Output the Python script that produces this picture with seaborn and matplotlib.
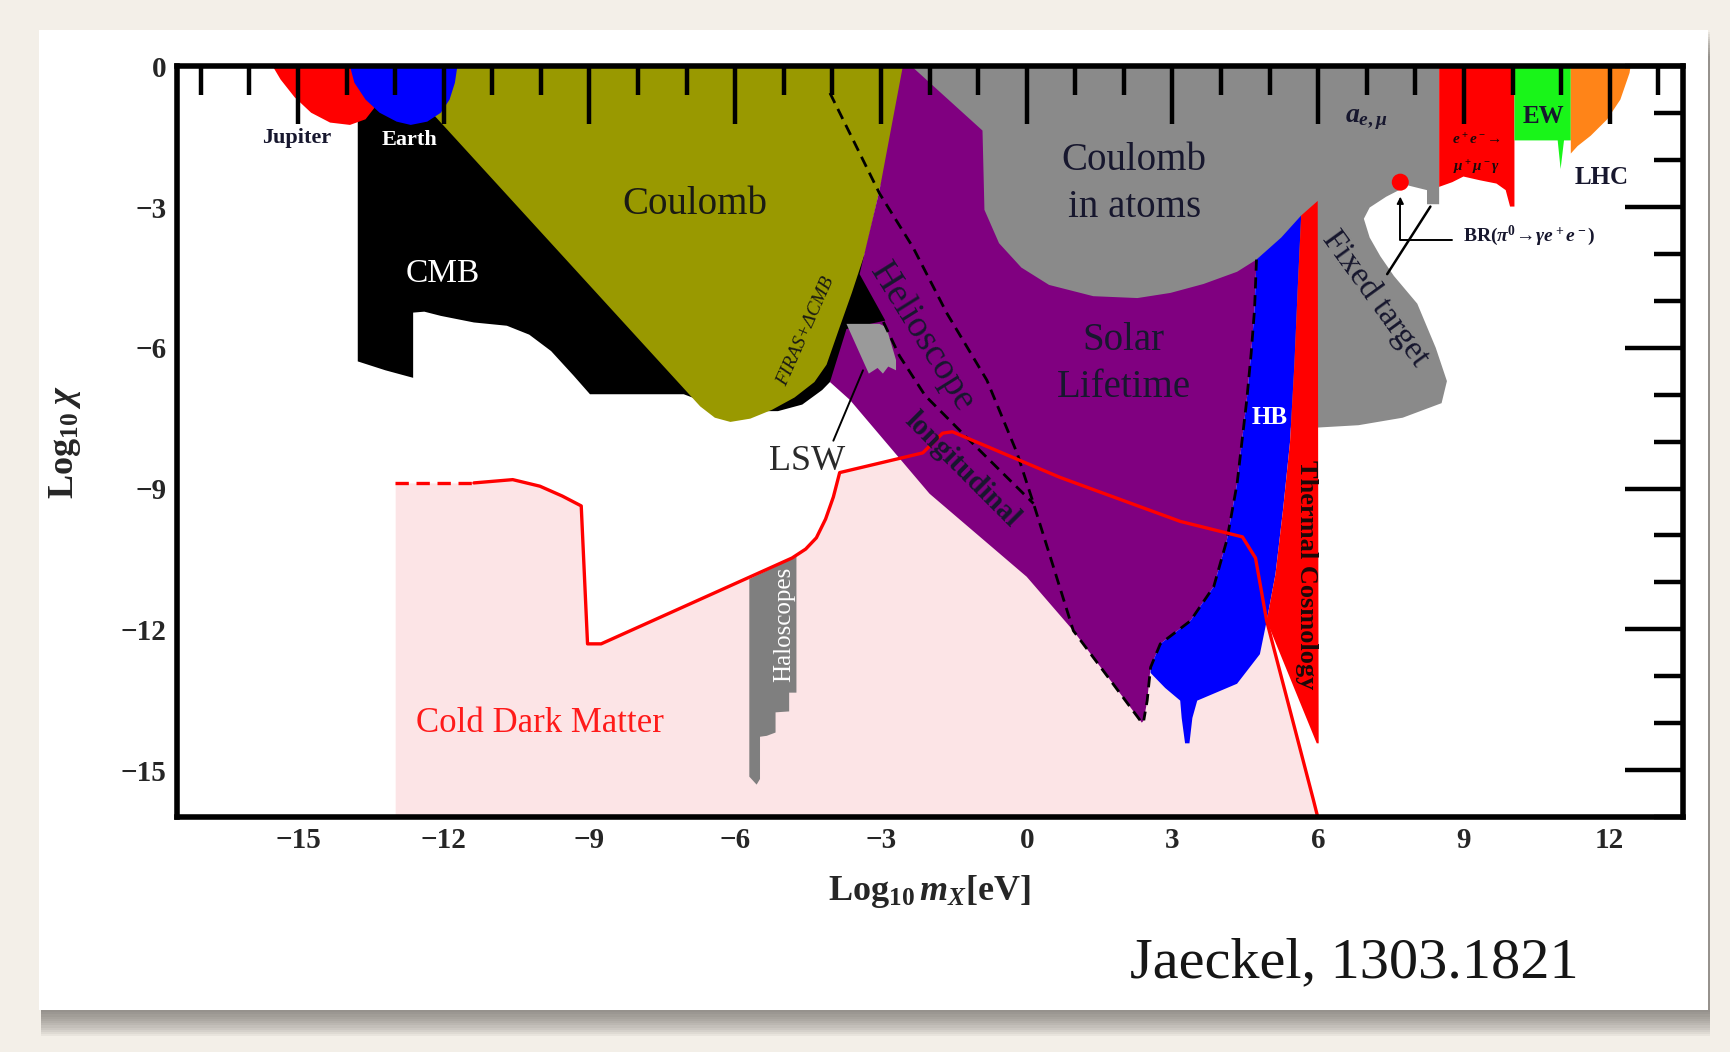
import numpy as np
import matplotlib
matplotlib.use("Agg")
import matplotlib.pyplot as plt
from matplotlib.patches import Rectangle
import seaborn as sns

# ---- region outlines: x = log10(m_X / eV), y = log10(chi) ----
jupiter_x = [-15.52, -15.36, -15.07, -14.73, -14.34, -13.93, -13.61, -13.43, -13.38, -13.43]
jupiter_y = [0, -0.28, -0.66, -0.99, -1.20, -1.25, -1.13, -0.89, -0.59, 0]

earth_x = [-13.93, -13.84, -13.61, -13.32, -12.97, -12.68, -12.34, -12.06, -11.88, -11.77, -11.72]
earth_y = [0, -0.35, -0.71, -0.99, -1.18, -1.25, -1.18, -0.99, -0.71, -0.35, 0]

cmb_x = [-13.77, -12.02, -8.42, -3.41, -2.62, -2.96, -3.64, -4.05, -4.21, -4.62, -5.12, -6.14,
         -7.06, -8.99, -9.33, -9.79, -10.24, -10.70, -11.38, -12.06, -12.40, -12.63, -12.63,
         -13.20, -13.77]
cmb_y = [-0.71, -0.71, -4.94, -4.00, -4.71, -5.65, -6.36, -6.73, -6.90, -7.21, -7.35, -7.35,
         -6.99, -6.99, -6.59, -6.07, -5.72, -5.53, -5.46, -5.32, -5.23, -5.25, -6.64,
         -6.48, -6.29]

coulomb_x = [-12.52, -2.46, -2.78, -3.03, -3.30, -3.60, -3.85, -4.12, -4.37, -4.78, -5.24,
             -5.69, -6.10, -6.42, -6.72, -12.29]
coulomb_y = [0, 0, -1.65, -2.64, -3.89, -4.83, -5.56, -6.36, -6.73, -7.06, -7.32,
             -7.51, -7.58, -7.49, -7.25, -0.94]

solar_x = [-2.55, 5.01, 5.01, 4.73, 4.69, 4.62, 4.53, 4.33, 4.12, 3.85, 3.37, 2.75, 2.55,
           2.48, 2.41, 2.37, 1.66, 0.96, 0.00, -2.00, -3.64, -4.05, -3.71, -2.91, -3.44, -3.03]
solar_y = [0, 0, -3.90, -4.12, -5.18, -6.12, -7.11, -8.90, -10.10, -11.09, -11.82, -12.31,
           -12.81, -13.52, -13.94, -13.99, -13.00, -12.03, -10.88, -9.11, -7.11, -6.73,
           -5.60, -5.42, -4.43, -2.64]

atoms_x = [-2.37, 8.49, 8.49, 8.24, 8.24, 7.85, 7.40, 7.06, 6.94, 7.06, 7.28, 7.56, 8.04,
           8.42, 8.65, 8.54, 7.74, 6.83, 5.99, 5.01, 5.01, 4.73, 4.33, 3.64, 2.96, 2.28,
           1.37, 0.46, -0.11, -0.57, -0.87, -0.91]
atoms_y = [0, 0, -2.94, -2.94, -2.64, -2.54, -2.78, -3.01, -3.25, -3.65, -4.05, -4.47, -5.06,
           -6.00, -6.71, -7.18, -7.49, -7.65, -7.70, -7.70, -3.89, -4.12, -4.38, -4.64,
           -4.83, -4.94, -4.90, -4.66, -4.29, -3.77, -3.06, -1.37]

hb_x = [4.73, 5.24, 5.65, 5.58, 5.51, 5.42, 5.28, 5.12, 4.94, 4.80, 4.33, 3.51, 3.41, 3.35,
        3.26, 3.19, 3.16, 2.85, 2.55, 2.55, 2.75, 3.37, 3.85, 4.12, 4.33, 4.53, 4.62, 4.69]
hb_y = [-4.12, -3.65, -3.18, -4.71, -6.36, -8.01, -9.42, -10.83, -11.82, -12.53, -13.16,
        -13.52, -13.89, -14.43, -14.43, -13.89, -13.52, -13.25, -12.93, -12.81, -12.31,
        -11.82, -11.09, -10.10, -8.90, -7.11, -6.12, -5.18]

thermal_x = [5.65, 5.99, 6.01, 5.97, 4.94, 5.12, 5.28, 5.42, 5.51, 5.58]
thermal_y = [-3.18, -2.87, -14.43, -14.43, -11.82, -10.83, -9.42, -8.01, -6.36, -4.71]

lsw_x = [-3.71, -3.03, -2.89, -2.69, -2.69, -2.85, -2.96, -3.07, -3.25]
lsw_y = [-5.49, -5.49, -5.56, -6.26, -6.48, -6.40, -6.55, -6.43, -6.55]

halo_x = [-5.71, -4.74, -4.74, -4.89, -4.89, -5.17, -5.17, -5.35, -5.49, -5.49, -5.56, -5.71]
halo_y = [-10.93, -10.45, -13.35, -13.35, -13.75, -13.77, -14.20, -14.27, -14.29, -15.19,
          -15.31, -15.14]

ee_x = [8.49, 10.04, 10.04, 9.95, 9.86, 9.67, 9.33, 8.99, 8.76, 8.49]
ee_y = [0, 0, -2.99, -2.99, -2.64, -2.50, -2.43, -2.35, -2.47, -2.57]

ew_x = [10.04, 11.20, 11.20, 11.06, 10.99, 10.93, 10.04]
ew_y = [0, 0, -1.58, -1.58, -2.19, -1.58, -1.58]

lhc_x = [11.20, 12.43, 12.41, 12.22, 11.95, 11.61, 11.34, 11.20]
lhc_y = [0, 0, -0.14, -0.71, -1.13, -1.48, -1.70, -1.86]

# cold dark matter boundary (first segment is the dashed extrapolation)
cdm_x = [-13.00, -11.38, -10.58, -10.02, -9.56, -9.17, -9.04, -8.76, -4.83, -4.55, -4.33,
         -4.14, -3.98, -3.85, -2.14, -1.73, -1.53, 0.68, 3.16, 4.44, 4.71, 4.94, 5.90, 5.99]
cdm_y = [-8.88, -8.88, -8.81, -8.95, -9.16, -9.37, -12.31, -12.31, -10.48, -10.29, -10.05,
         -9.65, -9.18, -8.66, -8.24, -7.82, -7.79, -8.76, -9.70, -10.03, -10.48, -11.82,
         -15.63, -16.0]

# helioscope bounds and HB bound (dashed)
helio_x = [-4.05, -3.03, -2.34, -1.64, -0.82, -0.20, 0.14, 0.55, 0.96, 1.66, 2.37]
helio_y = [-0.57, -2.71, -3.86, -5.27, -6.69, -8.24, -9.32, -10.67, -12.03, -13.00, -13.99]
helio_long_x = [-2.95, -2.62, -2.09, -1.14, 0.14]
helio_long_y = [-5.45, -6.17, -7.02, -8.01, -9.32]
hb_edge_x = [4.73, 4.69, 4.62, 4.53, 4.33, 4.12, 3.85, 3.37, 2.75, 2.55, 2.48, 2.41]
hb_edge_y = [-4.12, -5.18, -6.12, -7.11, -8.90, -10.10, -11.09, -11.82, -12.31, -12.81,
             -13.52, -13.94]

x_major = list(range(-15, 13, 3))
y_major = list(range(-15, 1, 3))

# ---- style ----
sns.set_style("white")
plt.rcParams.update({
    "font.family": ["Liberation Serif", "DejaVu Serif"],
    "mathtext.fontset": "custom",
    "mathtext.rm": "Liberation Serif:bold",
    "mathtext.it": "Liberation Serif:italic:bold",
    "mathtext.bf": "Liberation Serif:bold",
    "axes.unicode_minus": True,
})

DARK = "#17172e"

fig = plt.figure(figsize=(17.31, 10.52), dpi=100)
fig.patch.set_facecolor("#f3efe8")

# card with soft drop shadow
card = (0.0225, 0.040, 0.9645, 0.9315)
for k in range(12):
    off = (k + 1) * 0.0021
    fig.patches.append(Rectangle((card[0] + 0.001, card[1] - off), card[2], card[3],
                                 transform=fig.transFigure, facecolor="#55514c",
                                 alpha=0.065, edgecolor="none", zorder=-3))
fig.patches.append(Rectangle((card[0], card[1]), card[2], card[3], transform=fig.transFigure,
                             facecolor="white", edgecolor="none", zorder=-2))

ax = fig.add_axes([0.102, 0.2234, 0.870, 0.7136])
ax.set_facecolor("white")
ax.set_xlim(-17.5, 13.5)
ax.set_ylim(-16, 0)

# cold dark matter band
ax.fill_between(cdm_x, cdm_y, -16, color="#fce4e6", lw=0, zorder=1)

# excluded regions
ax.fill(cmb_x, cmb_y, color="black", lw=0, zorder=2)
ax.fill(coulomb_x, coulomb_y, color="#999900", lw=0, zorder=2.1)
ax.fill(jupiter_x, jupiter_y, color="#ff0000", lw=0, zorder=2.2)
ax.fill(earth_x, earth_y, color="#0000ff", lw=0, zorder=2.3)
ax.fill(solar_x, solar_y, color="#800080", lw=0, zorder=2.2)
ax.fill(atoms_x, atoms_y, color="#8a8a8a", lw=0, zorder=2.3)
ax.fill(lsw_x, lsw_y, color="#9a9a9a", lw=0, zorder=2.4)
ax.fill(hb_x, hb_y, color="#0000ff", lw=0, zorder=2.4)
ax.fill(thermal_x, thermal_y, color="#ff0000", lw=0, zorder=2.4)
ax.fill(halo_x, halo_y, color="#7f7f7f", lw=0, zorder=2.4)
ax.fill(ee_x, ee_y, color="#ff0000", lw=0, zorder=2.4)
ax.fill(ew_x, ew_y, color="#19f519", lw=0, zorder=2.4)
ax.fill(lhc_x, lhc_y, color="#ff8418", lw=0, zorder=2.4)


def trace(xs, ys, **kw):
    sns.lineplot(x=xs, y=ys, sort=False, estimator=None, ax=ax, **kw)


# dashed bounds
trace(helio_x, helio_y, color="black", lw=2.0, linestyle=(0, (4, 2.4)), zorder=3)
trace(helio_long_x, helio_long_y, color="black", lw=2.0, linestyle=(0, (4, 2.4)), zorder=3)
trace(hb_edge_x, hb_edge_y, color="black", lw=2.0, linestyle=(0, (4, 2.4)), zorder=3)

# cold dark matter boundary
trace(cdm_x[:2], cdm_y[:2], color="#ff0000", lw=2.4, linestyle=(0, (4, 2.3)), zorder=3.2)
trace(cdm_x[1:], cdm_y[1:], color="#ff0000", lw=2.4, zorder=3.2)

# LSW pointer and pi0 decay annotation
trace([-3.37, -3.98], [-6.48, -7.98], color="black", lw=1.4, zorder=3.3)
trace([8.31, 7.42], [-2.99, -4.43], color="black", lw=1.8, zorder=3.3)
trace([8.76, 7.69, 7.69], [-3.70, -3.70, -2.95], color="black", lw=1.4, zorder=3.3)
ax.annotate("", xy=(7.69, -2.72), xytext=(7.69, -3.0),
            arrowprops=dict(arrowstyle="-|>", color="black", lw=1.2, mutation_scale=10),
            zorder=3.3)
ax.scatter([7.69], [-2.47], s=150, color="#ff0000", edgecolor="none", zorder=3.4)

# region labels
txt = dict(zorder=4, ha="center", va="center")
ax.text(-15.02, -1.53, "Jupiter", fontsize=16, fontweight="bold", color=DARK, **txt)
ax.text(-12.70, -1.58, "Earth", fontsize=16, fontweight="bold", color="white", **txt)
ax.text(-12.02, -4.43, "CMB", fontsize=24, color="white", **txt)
ax.text(-6.83, -2.94, "Coulomb", fontsize=28, color="#1a1a14", **txt)
ax.text(-4.55, -5.65, "FIRAS+ΔCMB", fontsize=14, style="italic", color="#1a1a14",
        rotation=66, **txt)
ax.text(-2.16, -5.77, "Helioscope", fontsize=27, color=DARK, rotation=-58, **txt)
ax.text(-1.32, -8.59, "longitudinal", fontsize=21, fontweight="bold", color=DARK,
        rotation=-45, **txt)
ax.text(-4.51, -8.43, "LSW", fontsize=26, color="#2a2a2a", **txt)
ax.text(-4.99, -11.89, "Haloscopes", fontsize=18, color="white", rotation=90, **txt)
ax.text(-10.01, -14.01, "Cold Dark Matter", fontsize=25, color="#ff1a1a", **txt)
ax.text(2.21, -2.0, "Coulomb", fontsize=28, color=DARK, **txt)
ax.text(2.21, -3.01, "in atoms", fontsize=28, color=DARK, **txt)
ax.text(2.00, -5.84, "Solar", fontsize=28, color=DARK, **txt)
ax.text(2.00, -6.85, "Lifetime", fontsize=28, color=DARK, **txt)
ax.text(5.01, -7.49, "HB", fontsize=18, fontweight="bold", color="white", **txt)
ax.text(5.76, -10.83, "Thermal Cosmology", fontsize=19, fontweight="bold", color="#1a0a0a",
        rotation=-90, **txt)
ax.text(7.17, -4.94, "Fixed target", fontsize=24, color=DARK, rotation=-54, **txt)
ax.text(7.0, -1.13, r"$a_{e,\mu}$", fontsize=20, color=DARK, **txt)
ax.text(9.26, -1.58, r"$e^+e^-\!\rightarrow$", fontsize=11, color="#1a0a0a", **txt)
ax.text(9.26, -2.17, r"$\mu^+\mu^-\gamma$", fontsize=11, color="#1a0a0a", **txt)
ax.text(10.63, -1.08, "EW", fontsize=18, fontweight="bold", color=DARK, **txt)
ax.text(11.84, -2.38, "LHC", fontsize=18, fontweight="bold", color=DARK, **txt)
ax.text(8.99, -3.62, r"BR$(\pi^0\!\rightarrow\!\gamma e^+e^-)$", fontsize=14,
        fontweight="bold", color=DARK, ha="left", va="center", zorder=4)

# axes, ticks, labels
ax.set_xticks(x_major)
ax.set_xticks(np.arange(-17, 14, 1), minor=True)
ax.set_yticks(y_major)
ax.set_yticks(np.arange(-16, 1, 1), minor=True)
ax.tick_params(which="major", direction="in", length=42, width=3.2, top=True, right=True,
               labelsize=21, pad=7, color="black")
ax.tick_params(which="minor", direction="in", length=21, width=3.2, top=True, right=True,
               color="black")
for lbl in ax.get_xticklabels() + ax.get_yticklabels():
    lbl.set_fontweight("bold")
for s in ax.spines.values():
    s.set_linewidth(4)
    s.set_color("black")
    s.set_zorder(20)
ax.xaxis.set_zorder(20)
ax.yaxis.set_zorder(20)

ax.set_xlabel(r"$\mathrm{Log}_{10}\,m_X\mathrm{[eV]}$", fontsize=26)
ax.set_ylabel(r"$\mathrm{Log}_{10}\;\chi$", fontsize=26)
ax.xaxis.set_label_coords(0.5, -0.075)
ax.yaxis.set_label_coords(-0.062, 0.5)

fig.text(0.7825, 0.0713, "Jaeckel, 1303.1821", fontsize=42, color="#161616",
         ha="center", va="baseline")

fig.savefig("out.png", dpi=100)
